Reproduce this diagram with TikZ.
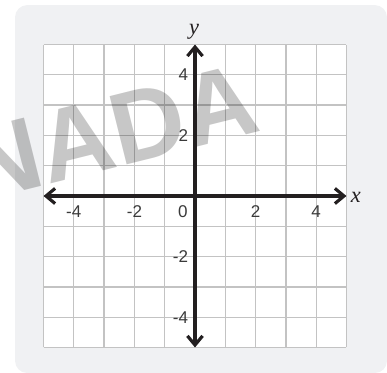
\documentclass[tikz,border=0pt]{standalone}
\usepackage{fontspec}
\setmainfont{Liberation Sans}
\newfontfamily\axisfont{Liberation Serif}
\usetikzlibrary{arrows.meta}
\definecolor{panelgray}{HTML}{F0F1F3}
\definecolor{gridgray}{HTML}{C3C3C3}
\definecolor{axisblack}{HTML}{231F20}
\definecolor{ticktext}{HTML}{3A3A3A}
\tikzset{
  panel/.style={
    fill=panelgray,
    draw=none,
    rounded corners=0.4cm
  },
  gridline/.style={
    draw=gridgray,
    line width=1.2pt
  },
  axisline/.style={
    {Straight Barb[length=3mm,width=5mm]}-{Straight Barb[length=3mm,width=5mm]},
    line width=3pt,
    draw=axisblack
  },
  ticklabel/.style={
    inner sep=0pt,
    text=ticktext,
    font=\fontsize{16}{18}\selectfont
  },
  axislabel/.style={
    inner sep=0pt,
    text=axisblack,
    font=\axisfont\itshape\fontsize{21}{24}\selectfont
  },
  watermark/.style={
    inner sep=0pt,
    text=black,
    opacity=0.22,
    rotate=14,
    font=\bfseries\fontsize{96}{96}\selectfont
  }
}
\begin{document}
\begin{tikzpicture}
\useasboundingbox (-6.436,-5.842) rectangle (6.337,6.469);
\fill[panel] (-5.94,-5.842) rectangle (6.337,6.30);
\fill[white] (-5,-5) rectangle (5,5);
\draw[gridline] (-5,-5) grid (5,5);
\node[watermark] (stamp) at (-2.75,2.1) {NADA};
\coordinate (xleft) at (-5,0);
\coordinate (xright) at (5,0);
\coordinate (ybottom) at (0,-5);
\coordinate (ytop) at (0,5);
\draw[axisline] (xleft) -- (xright);
\draw[axisline] (ybottom) -- (ytop);
\node[axislabel] (xname) at (5.31,-0.03) {x};
\node[axislabel] (yname) at (-0.03,5.41) {y};
\node[ticklabel] (xm4) at (-4,-0.5) {-4};
\node[ticklabel] (xm2) at (-2,-0.5) {-2};
\node[ticklabel] (origin) at (-0.4,-0.5) {0};
\node[ticklabel] (xp2) at (2,-0.5) {2};
\node[ticklabel] (xp4) at (4,-0.5) {4};
\node[ticklabel, anchor=east] (yp4) at (-0.22,4) {4};
\node[ticklabel, anchor=east] (yp2) at (-0.22,2) {2};
\node[ticklabel, anchor=east] (ym2) at (-0.22,-2) {-2};
\node[ticklabel, anchor=east] (ym4) at (-0.22,-4) {-4};
\end{tikzpicture}
\end{document}
